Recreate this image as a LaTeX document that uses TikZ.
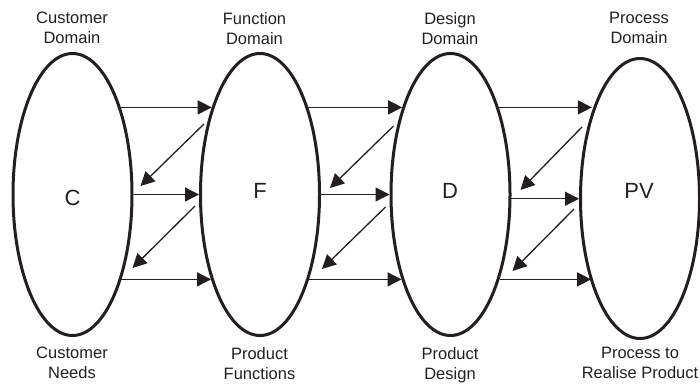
\documentclass[tikz,border=0pt]{standalone}
\usepackage{fontspec}
\setmainfont{Liberation Sans}
\usetikzlibrary{shapes.geometric,arrows.meta,calc}
\definecolor{ink}{HTML}{231F20}
\begin{document}
\begin{tikzpicture}[x=1pt,y=-1pt,
 domainbox/.style={ellipse,draw=ink,line width=3pt,minimum width=119pt,minimum height=282pt,inner sep=0pt},
 letter/.style={font=\fontsize{22}{26}\selectfont,text=ink,inner sep=0pt},
 lbl/.style={font=\fontsize{16.5}{20}\selectfont,text=ink,align=center,inner sep=0pt,anchor=north},
 arr/.style={draw=ink,line width=1.3pt,-{Triangle[length=14pt,width=14pt]}}]
\useasboundingbox (0,0) rectangle (700,383);

% domains
\node[domainbox] (C) at (72.5,194.5) {};
\node[domainbox] (F) at (260,194.5) {};
\node[domainbox] (D) at (450.5,194.5) {};
\node[domainbox,minimum height=280pt] (PV) at (640,198.5) {};

% letters
\node[letter] (Cl) at (72.5,198) {C};
\node[letter] (Fl) at (260,190.5) {F};
\node[letter] (Dl) at (450,191) {D};
\node[letter] (PVl) at (639,191) {PV};

% top labels
\node[lbl] (Ct) at (72,12) {Customer\\Domain};
\node[lbl] (Ft) at (254.5,12) {Function\\Domain};
\node[lbl] (Dt) at (450,12) {Design\\Domain};
\node[lbl] (PVt) at (639,12) {Process\\Domain};

% bottom labels
\node[lbl] (Cb) at (72,347) {Customer\\Needs};
\node[lbl] (Fb) at (259.5,347) {Product\\Functions};
\node[lbl] (Db) at (450,347) {Product\\Design};
\node[lbl] (PVb) at (640,347) {Process to\\Realise Product};

% C -- F
\draw[arr] (C.61) -- (C.61 -| F.119);
\draw[arr] (C.east) -- (F.west);
\draw[arr] (C.-60) -- (C.-60 -| F.-120);
\draw[arr] ($(F.center)+(-56,-70.5)$) -- ($(C.center)+(68,-8.5)$);
\draw[arr] ($(F.center)+(-65,11.5)$) -- ($(C.center)+(60,73.5)$);

% F -- D
\draw[arr] (F.61) -- (F.61 -| D.119);
\draw[arr] (F.east) -- (D.west);
\draw[arr] (F.-60) -- (F.-60 -| D.-120);
\draw[arr] ($(D.center)+(-57,-68.5)$) -- ($(F.center)+(70,-6.5)$);
\draw[arr] ($(D.center)+(-65,12.5)$) -- ($(F.center)+(62,74.5)$);

% D -- PV
\draw[arr] (D.61) -- (D.61 -| PV.119);
\draw[arr] (D.-4) -- (D.-4 -| PV.west);
\draw[arr] (D.-60) -- (D.-60 -| PV.-120);
\draw[arr] ($(PV.center)+(-58,-71.5)$) -- ($(D.center)+(70,-4.5)$);
\draw[arr] ($(PV.center)+(-66,10.5)$) -- ($(D.center)+(62,76.5)$);
\end{tikzpicture}
\end{document}
